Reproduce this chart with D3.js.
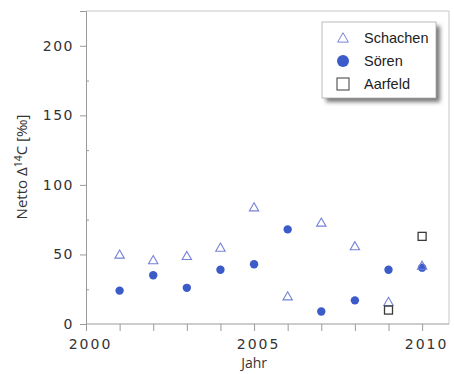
<!DOCTYPE html>
<html><head><meta charset="utf-8">
<script src="https://cdn.jsdelivr.net/npm/d3@7"></script>
<style>html,body{margin:0;padding:0;background:#fff;}</style>
</head><body>
<svg id="c" width="454" height="374"></svg>
<script>
const years = [2001,2002,2003,2004,2005,2006,2007,2008,2009,2010];
const schachen = [50,46,49,55,84,20,73,56,16,42];
const soeren = [24,35,26,39,43,68,9,17,39,40.5];
const aarfeldYears = [2009,2010];
const aarfeld = [10,63];
const yMajorTicks = [0,50,100,150,200];
const yMinorTicks = [25,75,125,175];
const xLabelTicks = [2000,2005,2010];
const xAllTicks = [2000,2001,2002,2003,2004,2005,2006,2007,2008,2009,2010];
const legendNames = ["Schachen","Sören","Aarfeld"];

const svg = d3.select("#c");
const L=86, R=449, T=11, B=324;
const x = d3.scaleLinear().domain([2000,2010.8]).range([L,R]);
const y = d3.scaleLinear().domain([0,225]).range([B,T]);

const triCol="#7581d8", dotCol="#3b5bc9", sqCol="#3a3a3a", axCol="#9a9a9a";

// frame
svg.append("line").attr("x1",L).attr("x2",R).attr("y1",T).attr("y2",T).attr("stroke","#c8c8c8");
svg.append("line").attr("x1",R).attr("x2",R).attr("y1",T).attr("y2",B).attr("stroke","#c8c8c8");

// y axis
const ya = svg.append("g").attr("transform",`translate(${L},0)`)
  .call(d3.axisLeft(y).tickValues(yMajorTicks).tickSize(6).tickPadding(6).tickFormat(d3.format("d")));
ya.select(".domain").attr("stroke",axCol);
ya.selectAll(".tick line").attr("stroke",axCol);
ya.selectAll(".tick text").attr("font-family","DejaVu Sans").attr("font-size",14).attr("fill","#333").attr("letter-spacing","1.5px");
const ym = svg.append("g").attr("transform",`translate(${L},0)`)
  .call(d3.axisRight(y).tickValues(yMinorTicks).tickSize(3).tickFormat(""));
ym.select(".domain").remove();
ym.selectAll(".tick line").attr("stroke",axCol);

// x axis
const xa = svg.append("g").attr("transform",`translate(0,${B})`)
  .call(d3.axisBottom(x).tickValues(xAllTicks).tickSize(7).tickPadding(8)
    .tickFormat(d => xLabelTicks.includes(d) ? d3.format("d")(d) : ""));
xa.select(".domain").attr("stroke",axCol).attr("d",`M${L},0H${R}`);
xa.selectAll(".tick line").attr("stroke",axCol);
xa.selectAll(".tick text").attr("font-family","DejaVu Sans").attr("font-size",14).attr("fill","#333")
  .attr("letter-spacing","2px").attr("dx",4);

// axis titles
svg.append("text").attr("x",x(2005)).attr("y",368).attr("text-anchor","middle")
  .attr("font-family","Open Sans").attr("font-size",14).attr("fill","#333").text("Jahr");
const yt = svg.append("text").attr("transform","translate(27,167) rotate(-90)").attr("text-anchor","middle")
  .attr("font-family","Open Sans").attr("font-size",15).attr("fill","#333");
yt.append("tspan").text("Netto Δ");
yt.append("tspan").attr("font-size",10.5).attr("dy",-5).text("14");
yt.append("tspan").attr("dy",5).text("C [‰]");

// data
const triPath = d3.symbol().type(d3.symbolTriangle).size(38);
svg.append("g").selectAll("circle").data(years).join("circle")
  .attr("cx",d=>x(d)).attr("cy",(d,i)=>y(soeren[i])).attr("r",4.2).attr("fill",dotCol);
svg.append("g").selectAll("path").data(years).join("path")
  .attr("d",triPath).attr("transform",(d,i)=>`translate(${x(d)},${y(schachen[i])+1})`)
  .attr("fill","none").attr("stroke",triCol).attr("stroke-width",1.1);
svg.append("g").selectAll("rect").data(aarfeldYears).join("rect")
  .attr("x",d=>x(d)-4).attr("y",(d,i)=>y(aarfeld[i])-4).attr("width",8).attr("height",8)
  .attr("fill","none").attr("stroke",sqCol).attr("stroke-width",1.3);

// legend
const defs = svg.append("defs");
const f = defs.append("filter").attr("id","sh").attr("x","-20%").attr("y","-20%").attr("width","150%").attr("height","150%");
f.append("feGaussianBlur").attr("stdDeviation",2);
svg.append("rect").attr("x",326).attr("y",26).attr("width",114).attr("height",76).attr("fill","#777").attr("filter","url(#sh)");
svg.append("rect").attr("x",322).attr("y",22).attr("width",114).attr("height",76).attr("fill","#fff").attr("stroke","#aaa").attr("stroke-width",0.8);
const ly = [38,61,84];
const lg = svg.append("g");
lg.append("path").attr("d",d3.symbol().type(d3.symbolTriangle).size(50)).attr("transform",`translate(343,${ly[0]+1})`)
  .attr("fill","none").attr("stroke",triCol).attr("stroke-width",1);
lg.append("circle").attr("cx",343).attr("cy",ly[1]).attr("r",6).attr("fill",dotCol);
lg.append("rect").attr("x",337).attr("y",ly[2]-6).attr("width",12).attr("height",12).attr("fill","none").attr("stroke",sqCol).attr("stroke-width",1);
lg.selectAll("text").data(legendNames).join("text")
  .attr("x",364).attr("y",(d,i)=>ly[i]+5).attr("font-family","Liberation Sans").attr("font-size",14.5).attr("fill","#222").text(d=>d);
</script>
</body></html>
